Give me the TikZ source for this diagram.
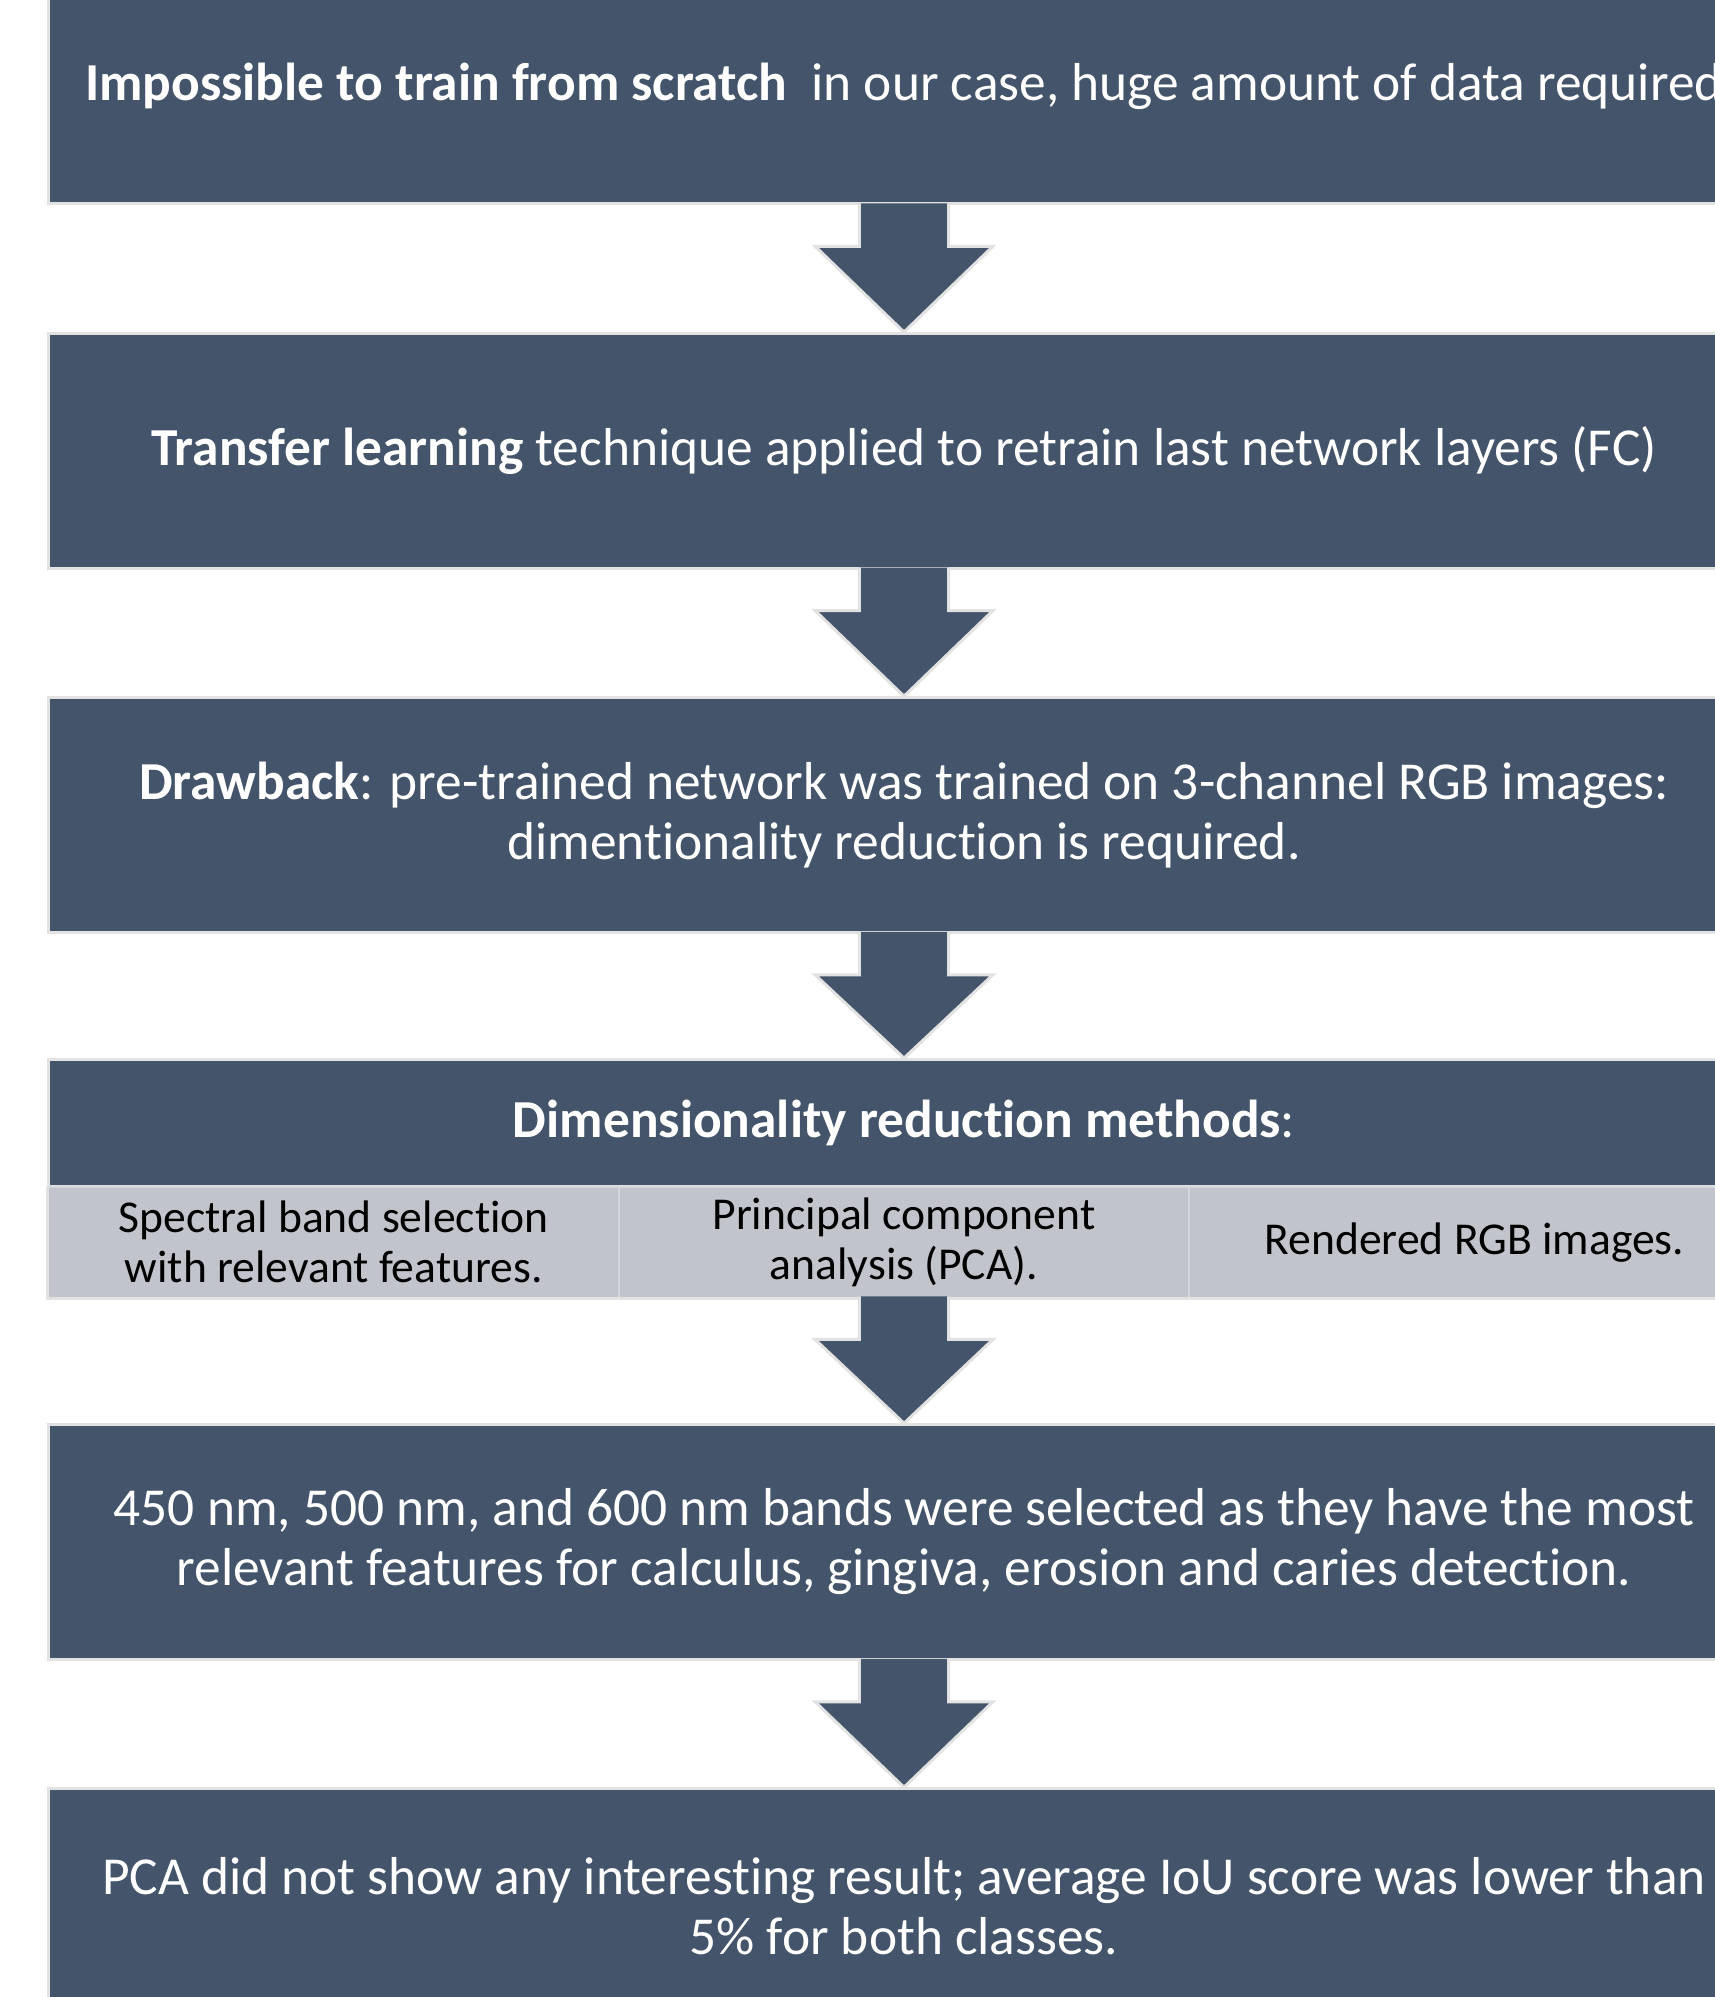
\documentclass[tikz,border=0pt]{standalone}
\usepackage{fontspec}
\setmainfont{Carlito}[Ligatures=NoCommon]
\usetikzlibrary{calc}

\definecolor{ardoise}{HTML}{44546A}
\definecolor{grisclair}{HTML}{C1C5CB}
\definecolor{bordure}{HTML}{E2E2E2}
\definecolor{trait}{HTML}{D4D7DB}

\tikzset{
  etape/.style={fill=ardoise, draw=bordure, line width=1.5pt, inner sep=0pt,
    minimum width=855.8pt, minimum height=117.25pt, text=white, align=center,
    font=\fontsize{26.7}{30}\selectfont},
  entete/.style={etape, minimum height=63.65pt},
  case/.style={fill=grisclair, draw=trait, line width=0.8pt, inner sep=0pt,
    minimum width=285.3pt, minimum height=55.4pt, text=black, align=center,
    font=\fontsize{22.8}{25}\selectfont},
  fleche/.style={fill=ardoise, draw=bordure, line width=1.5pt, line join=miter}
}

\begin{document}
\begin{tikzpicture}[x=0.5pt,y=0.5pt]
\useasboundingbox (0,0) rectangle (1714,-1997);

% Etapes
\node[etape] (entrainement) at (904,-86.5)
  {\textbf{Impossible to train from scratch}\ \ in our case, huge amount of data required};
\node[etape] (transfert) at (904,-450.8)
  {\textbf{Transfer learning} technique applied to retrain last network layers (FC)};
\node[etape] (limite) at (904,-815)
  {\textbf{Drawback}: pre-trained network was trained on 3-channel RGB images:\\
   dimentionality reduction is required.};

% Methodes
\node[entete] (methodes) at (904,-1123.2) {\textbf{Dimensionality reduction methods}:};
\node[case] (bandes) at (333.7,-1242.2) {Spectral band selection\\with relevant features.};
\node[case] (acp) at (904,-1242.2) {Principal component\\analysis (PCA).};
\node[case] (rendu) at (1474.4,-1242.2) {Rendered RGB images.};
\draw[bordure, line width=1.5pt] (bandes.north west) -- (bandes.south west)
  -- (rendu.south east);

% Resultats
\node[etape] (selection) at (904,-1542)
  {450 nm, 500 nm, and 600 nm bands were selected as they have the most\\
   relevant features for calculus, gingiva, erosion and caries detection.};
\node[etape] (resultat) at (904,-1906)
  {PCA did not show any interesting result; average IoU score was lower than\\
   5\% for both classes.};

% Fleches
\foreach \a/\b in {entrainement/transfert, transfert/limite, limite/methodes,
  acp/selection, selection/resultat}
{
\filldraw[fleche] ($(\a.south)+(-22.3pt,1pt)$) -- ($(\a.south)+(-22.3pt,-20.5pt)$)
  -- ($(\a.south)+(-44.5pt,-20.5pt)$) -- (\b.north)
  -- ($(\a.south)+(44.5pt,-20.5pt)$) -- ($(\a.south)+(22.3pt,-20.5pt)$)
  -- ($(\a.south)+(22.3pt,1pt)$);
}

\end{tikzpicture}
\end{document}
